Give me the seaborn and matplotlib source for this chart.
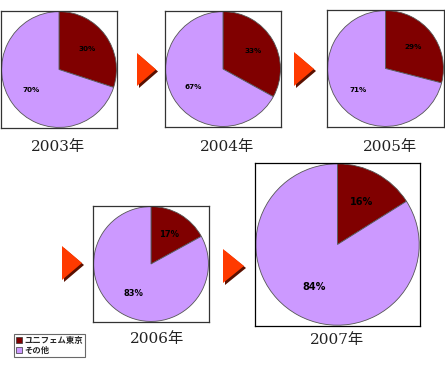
import matplotlib.pyplot as plt
import seaborn as sns
from matplotlib.patches import Polygon, Patch

# data
years = ["2003年", "2004年", "2005年", "2006年", "2007年"]
unifem = [30, 33, 29, 17, 16]
others = [70, 67, 71, 83, 84]
series = ["ユニフェム東京", "その他"]
colors = ["#800000", "#CC99FF"]

W, H = 445, 365

sns.set_theme(style="white")
plt.rcParams["font.family"] = ["DejaVu Sans", "Noto Sans CJK JP"]

# panel boxes in pixels: left, top, width, height
boxes = [
    (1, 11, 116, 117),
    (165, 11, 116, 116),
    (327, 10, 117, 117),
    (93, 206, 116, 116),
    (255, 163, 165, 163),
]
label_pos = [(58, 147), (227, 147), (390, 147), (157, 339), (337, 340)]
pct_size = [5.2, 5.2, 5.2, 6.0, 7.0]
arrows = [(137, 53, 19, 33), (294, 52, 20, 34), (62, 246, 20, 34), (223, 249, 21, 34)]

fig = plt.figure(figsize=(W / 100, H / 100), dpi=100)
fig.patch.set_facecolor("white")

# overlay in pixel coordinates for arrows and year labels
over = fig.add_axes([0, 0, 1, 1])
over.set_xlim(0, W)
over.set_ylim(H, 0)
over.axis("off")

for x, y, w, h in arrows:
    shadow = Polygon([(x + 2, y + 2), (x + w + 2, y + h / 2 + 2), (x + 2, y + h + 2)],
                     closed=True, facecolor="#5a1000", edgecolor="none")
    tri = Polygon([(x, y), (x + w, y + h / 2), (x, y + h)],
                  closed=True, facecolor="#ff3a00", edgecolor="none")
    over.add_patch(shadow)
    over.add_patch(tri)

for (cx, cy), yr in zip(label_pos, years):
    over.text(cx, cy, yr, ha="center", va="center", fontsize=11,
              family=["DejaVu Serif", "Noto Sans CJK JP"], color="#222222")

for i, (l, t, w, h) in enumerate(boxes):
    ax = fig.add_axes([l / W, 1 - (t + h) / H, w / W, h / H])
    ax.pie(
        [unifem[i], others[i]],
        colors=colors,
        startangle=90,
        counterclock=False,
        radius=1.0,
        autopct="%d%%",
        pctdistance=0.6,
        frame=True,
        wedgeprops={"edgecolor": "#555555", "linewidth": 0.6},
        textprops={"fontsize": pct_size[i], "fontweight": "bold", "color": "black"},
    )
    ax.set_frame_on(True)
    ax.set_xlim(-1.01, 1.01)
    ax.set_ylim(-1.01, 1.01)
    ax.set_aspect("auto")
    ax.set_xticks([])
    ax.set_yticks([])
    for s in ax.spines.values():
        s.set_visible(True)
        s.set_color("#333333" if i < 4 else "black")
        s.set_linewidth(0.9)

handles = [Patch(facecolor=c, edgecolor="#333333", linewidth=0.5) for c in colors]
leg = fig.legend(
    handles, series,
    loc="lower left",
    bbox_to_anchor=(14 / W, 1 - 357 / H),
    frameon=True, fancybox=False,
    prop={"family": ["Noto Sans CJK JP"], "weight": "bold", "size": 6},
    handlelength=0.7, handleheight=0.7, handletextpad=0.3,
    borderpad=0.25, labelspacing=0.15, borderaxespad=0,
)
leg.get_frame().set_edgecolor("#444444")
leg.get_frame().set_linewidth(0.8)

fig.savefig("out.png", dpi=100, facecolor="white")
